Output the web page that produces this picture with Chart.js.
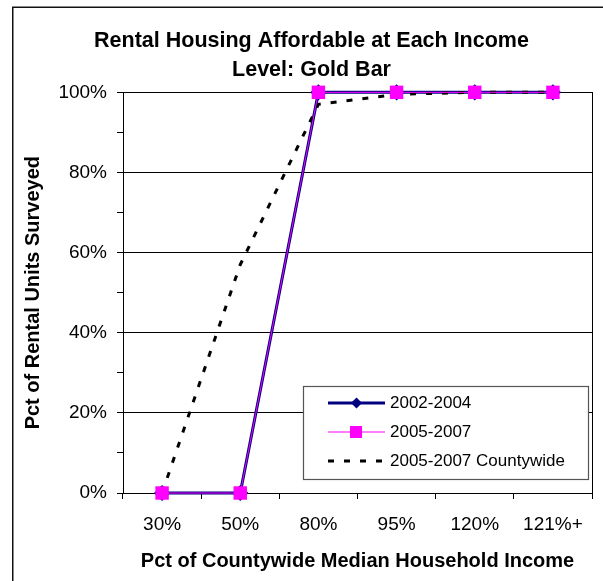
<!DOCTYPE html>
<html lang="en">
<head>
<meta charset="UTF-8">
<title>Rental Housing Affordable - Gold Bar</title>
<script src="https://cdn.jsdelivr.net/npm/chart.js"></script>
<style>
  body { margin: 0; background: #fff; }
  #wrap { width: 603px; height: 581px; }
</style>
</head>
<body>
<div id="wrap"><canvas id="rentChart" width="603" height="581"></canvas></div>

<script>
  // data
  var incomeLevels = ['30%', '50%', '80%', '95%', '120%', '121%+']
  var gold0204 = [0, 0, 1, 1, 1, 1]
  var gold0507 = [0, 0, 1, 1, 1, 1]
  var countywide0507 = [0, 0.57, 0.97, 0.995, 1, 1]
  var seriesNames = ['2002-2004', '2005-2007', '2005-2007 Countywide']
  var titleLines = ['Rental Housing Affordable at Each Income', 'Level: Gold Bar']
  var xTitle = 'Pct of Countywide Median Household Income'
  var yTitle = 'Pct of Rental Units Surveyed'

  var FONT = "'Liberation Sans', Arial, sans-serif"
  Chart.defaults.font.family = FONT
  Chart.defaults.color = '#000'

  // outer frame (cut off at right/bottom like the original)
  const framePlugin = {
    id: 'frame',
    beforeDraw(chart) {
      const ctx = chart.ctx
      ctx.save()
      ctx.fillStyle = '#fff'
      ctx.fillRect(0, 0, chart.width, chart.height)
      ctx.strokeStyle = '#111'
      ctx.lineWidth = 1.5
      ctx.strokeRect(12.75, 7.25, 700, 700)
      ctx.restore()
    }
  }

  // legend box inside the plot, drawn from the dataset styles
  const boxLegend = {
    id: 'boxLegend',
    afterDraw(chart) {
      const ctx = chart.ctx
      const bx = 303, by = 386, bw = 285, bh = 93
      ctx.save()
      ctx.fillStyle = '#fff'
      ctx.fillRect(bx, by, bw, bh)
      ctx.strokeStyle = '#555'
      ctx.lineWidth = 1.2
      ctx.strokeRect(bx + 0.5, by + 0.5, bw, bh)

      const rows = [403, 432, 461]
      chart.data.datasets.forEach(function (ds, i) {
        const y = rows[ds.legendRow]
        ctx.strokeStyle = ds.borderColor
        ctx.lineWidth = ds.borderWidth
        ctx.setLineDash(ds.borderDash || [])
        ctx.beginPath()
        ctx.moveTo(328, y)
        ctx.lineTo(385, y)
        ctx.stroke()
        ctx.setLineDash([])
        ctx.fillStyle = ds.pointBackgroundColor || ds.borderColor
        if (ds.pointStyle === 'rectRot') {
          ctx.beginPath()
          ctx.moveTo(356.5, y - 5.5)
          ctx.lineTo(362, y)
          ctx.lineTo(356.5, y + 5.5)
          ctx.lineTo(351, y)
          ctx.closePath()
          ctx.fill()
        } else if (ds.pointStyle === 'rect') {
          ctx.fillRect(350, y - 6, 12, 12)
        }
        ctx.fillStyle = '#000'
        ctx.font = '17px ' + FONT
        ctx.textBaseline = 'middle'
        ctx.fillText(ds.label, 390, y)
      })
      ctx.restore()
    }
  }

  const data = {
    labels: incomeLevels,
    datasets: [
      {
        label: seriesNames[1],
        legendRow: 1,
        data: gold0507,
        borderColor: '#FF00FF',
        borderWidth: 1,
        pointStyle: 'rect',
        pointRadius: 9.5,
        pointBackgroundColor: '#FF00FF',
        pointBorderColor: '#FF00FF',
        pointBorderWidth: 0,
        order: 0,
        clip: false
      },
      {
        label: seriesNames[2],
        legendRow: 2,
        data: countywide0507,
        borderColor: '#000',
        borderWidth: 3,
        borderDash: [6, 10],
        pointRadius: 0,
        order: 1,
        clip: false
      },
      {
        label: seriesNames[0],
        legendRow: 0,
        data: gold0204,
        borderColor: '#000080',
        borderWidth: 3,
        pointStyle: 'rectRot',
        pointRadius: 6,
        pointBackgroundColor: '#000080',
        pointBorderColor: '#000080',
        order: 2,
        clip: false
      }
    ]
  }

  const config = {
    type: 'line',
    data: data,
    plugins: [framePlugin, boxLegend],
    options: {
      responsive: false,
      animation: false,
      tension: 0,
      layout: { padding: { left: 20, right: 0, top: 0, bottom: 0 } },
      plugins: {
        legend: { display: false },
        tooltip: { enabled: false },
        title: {
          display: true,
          text: titleLines,
          color: '#000',
          font: { size: 21.5, weight: 'bold', lineHeight: 1.38 },
          padding: { top: 26, bottom: 7 }
        }
      },
      scales: {
        x: {
          offset: true,
          grid: { offset: true, drawOnChartArea: false, tickLength: 6, color: '#000' },
          border: { color: '#000', width: 1 },
          ticks: { font: { size: 19 }, padding: 14, color: '#000' },
          title: {
            display: true,
            text: xTitle,
            color: '#000',
            font: { size: 20, weight: 'bold', lineHeight: 1.2 },
            padding: { top: 0, bottom: 8 }
          },
          afterFit: function (scale) { scale.height = 88 }
        },
        y: {
          min: 0,
          max: 1,
          ticks: {
            stepSize: 0.1,
            font: { size: 19 },
            padding: 10,
            color: '#000',
            callback: function (value) {
              var t = Math.round(value * 10)
              return t % 2 === 0 ? (t * 10) + '%' : ''
            }
          },
          grid: {
            tickLength: 6,
            tickColor: '#000',
            color: function (c) {
              return Math.round(c.tick.value * 10) % 2 === 0 ? '#000' : 'rgba(0,0,0,0)'
            }
          },
          border: { color: '#000', width: 1 },
          title: {
            display: true,
            text: yTitle,
            color: '#000',
            font: { size: 20, weight: 'bold', lineHeight: 1.2 },
            padding: { top: 1, bottom: 0 }
          },
          afterFit: function (scale) { scale.width = 103 }
        },
        yRight: {
          type: 'linear',
          position: 'right',
          display: true,
          ticks: { display: false },
          grid: { drawOnChartArea: false, drawTicks: false },
          border: { color: '#000', width: 1 },
          afterFit: function (scale) { scale.width = 11 }
        }
      }
    }
  }

  const rentChart = new Chart(document.getElementById('rentChart'), config)
</script>
</body>
</html>
